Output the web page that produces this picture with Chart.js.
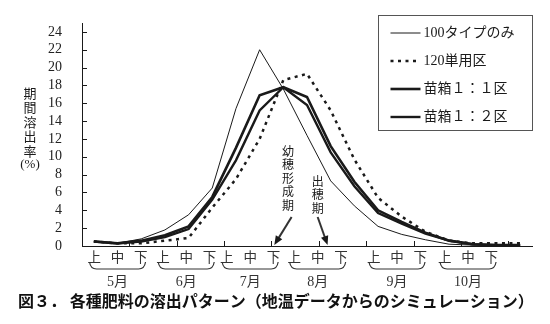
<!DOCTYPE html>
<html lang="ja">
<head>
<meta charset="utf-8">
<script src="https://cdn.jsdelivr.net/npm/chart.js@4.4.1/dist/chart.umd.min.js"></script>
<style>
  html, body { margin: 0; padding: 0; background: #fff; }
  #wrap { width: 550px; height: 324px; }
</style>
</head>
<body>
<div id="wrap"><canvas id="chartYoushutsu"></canvas></div>
<script>
// 旬ごとの期間溶出率 (%)
const periods = [
  '5月上旬', '5月中旬', '5月下旬', '6月上旬', '6月中旬', '6月下旬',
  '7月上旬', '7月中旬', '7月下旬', '8月上旬', '8月中旬', '8月下旬',
  '9月上旬', '9月中旬', '9月下旬', '10月上旬', '10月中旬', '10月下旬', '11月上旬'
];
const months = ['5月', '6月', '7月', '8月', '9月', '10月'];
const junLabels = ['上', '中', '下'];
const yTicks = [0, 2, 4, 6, 8, 10, 12, 14, 16, 18, 20, 22, 24];

const seriesNames = ['100タイプのみ', '120単用区', '苗箱１：１区', '苗箱１：２区'];
const type100   = [0.5, 0.3, 0.8, 1.8, 3.5, 6.5, 15.4, 22.0, 17.6, 12.4, 7.3, 4.5, 2.2, 1.3, 0.7, 0.2, 0.1, 0.1, 0.1];
const single120 = [0.5, 0.3, 0.3, 0.6, 0.9, 4.3, 7.5, 12.0, 18.6, 19.3, 15.2, 9.7, 5.4, 3.3, 1.6, 0.6, 0.3, 0.3, 0.3];
const box11     = [0.5, 0.3, 0.6, 1.2, 2.2, 5.5, 11.0, 16.9, 17.8, 16.7, 11.2, 7.2, 4.0, 2.7, 1.5, 0.6, 0.2, 0.1, 0.1];
const box12     = [0.5, 0.3, 0.5, 1.0, 1.9, 5.2, 9.6, 15.2, 17.8, 15.8, 10.5, 6.7, 3.7, 2.5, 1.4, 0.6, 0.2, 0.1, 0.1];

const INK = '#1a1a1a';
const SERIF = '"Liberation Serif", "Noto Sans CJK JP", serif';
const JP = '"Noto Sans CJK JP", sans-serif';

// 月ごとの「中」の位置（カテゴリ番号）
const groupCenters = [1.0, 3.9, 6.6, 9.45, 12.8, 15.8];

function arrow(ctx, x1, y1, x2, y2) {
  const ang = Math.atan2(y2 - y1, x2 - x1);
  const head = 9;
  ctx.lineWidth = 2;
  ctx.beginPath();
  ctx.moveTo(x1, y1);
  ctx.lineTo(x2 - Math.cos(ang) * head * 0.8, y2 - Math.sin(ang) * head * 0.8);
  ctx.stroke();
  ctx.beginPath();
  ctx.moveTo(x2, y2);
  ctx.lineTo(x2 - head * Math.cos(ang) + 3.8 * Math.sin(ang), y2 - head * Math.sin(ang) - 3.8 * Math.cos(ang));
  ctx.lineTo(x2 - head * Math.cos(ang) - 3.8 * Math.sin(ang), y2 - head * Math.sin(ang) + 3.8 * Math.cos(ang));
  ctx.closePath();
  ctx.fill();
}

function verticalText(ctx, str, cx, top, step) {
  [...str].forEach((ch, i) => ctx.fillText(ch, cx, top + i * step));
}

const decorPlugin = {
  id: 'decor',
  afterDraw(chart) {
    const { ctx, chartArea: area, scales: { x, y } } = chart;
    ctx.save();
    ctx.strokeStyle = INK;
    ctx.fillStyle = INK;
    ctx.lineWidth = 1;

    // 内向きの目盛り
    ctx.beginPath();
    yTicks.forEach(v => {
      const py = Math.round(y.getPixelForValue(v)) + 0.5;
      ctx.moveTo(area.left, py);
      ctx.lineTo(area.left + 5, py);
    });
    for (let i = 1.5; i < periods.length - 1; i += 2) {
      const px = Math.round(x.getPixelForValue(i)) + 0.5;
      ctx.moveTo(px, area.bottom);
      ctx.lineTo(px, area.bottom - 5);
    }
    ctx.stroke();

    // 上・中・下、括弧、月
    ctx.textAlign = 'center';
    ctx.textBaseline = 'middle';
    groupCenters.forEach((c, g) => {
      const cx = x.getPixelForValue(c);
      const step = 23.3;
      ctx.font = '13.5px ' + JP;
      ctx.fillStyle = '#333';
      junLabels.forEach((t, j) => ctx.fillText(t, cx + (j - 1) * step, area.bottom + 11));

      ctx.lineWidth = 1.2;
      ctx.strokeStyle = '#333';
      const l = cx - 28, r = cx + 28, top = area.bottom + 16, bot = area.bottom + 23;
      ctx.beginPath();
      ctx.moveTo(l, top);
      ctx.quadraticCurveTo(l + 1, bot, l + 7, bot);
      ctx.lineTo(r - 7, bot);
      ctx.quadraticCurveTo(r - 1, bot, r, top);
      ctx.stroke();

      ctx.font = '14px ' + SERIF;
      ctx.fillText(months[g], cx, area.bottom + 36);
    });

    // 縦軸タイトル
    ctx.fillStyle = INK;
    ctx.font = '13px ' + JP;
    verticalText(ctx, '期間溶出率', 30, 93, 14.5);
    ctx.font = '13px ' + SERIF;
    ctx.fillText('(%)', 30, 165);

    // 生育ステージの注記
    ctx.font = '12px ' + JP;
    const xa = x.getPixelForValue(8.2);
    verticalText(ctx, '幼穂形成期', xa, area.bottom - 95, 13.5);
    const xb = x.getPixelForValue(9.45);
    verticalText(ctx, '出穂期', xb, area.bottom - 65, 13.5);
    arrow(ctx, x.getPixelForValue(8.35), area.bottom - 29, x.getPixelForValue(7.62), area.bottom - 1);
    arrow(ctx, x.getPixelForValue(9.45), area.bottom - 29, x.getPixelForValue(9.87), area.bottom - 1);

    // 凡例
    const bw = 154, bh = 115;
    const bx = Math.round(area.right - bw) + 0.5, by = 15.5;
    ctx.lineWidth = 1;
    ctx.strokeStyle = '#555';
    ctx.fillStyle = '#fff';
    ctx.fillRect(bx, by, bw, bh);
    ctx.strokeRect(bx, by, bw, bh);
    ctx.textAlign = 'left';
    chart.data.datasets.forEach((ds, i) => {
      const ly = 33 + i * 28;
      ctx.strokeStyle = INK;
      ctx.lineWidth = ds.borderWidth;
      ctx.setLineDash(ds.borderDash || []);
      ctx.beginPath();
      ctx.moveTo(bx + 12, ly);
      ctx.lineTo(bx + 42, ly);
      ctx.stroke();
      ctx.setLineDash([]);
      ctx.fillStyle = INK;
      ctx.font = '14px ' + SERIF;
      ctx.fillText(ds.label, bx + 45, ly);
    });

    // 図題
    ctx.font = 'bold 16px ' + JP;
    ctx.fillStyle = '#111';
    ctx.fillText('図３． 各種肥料の溶出パターン（地温データからのシミュレーション）', 18, 301);
    ctx.restore();
  }
};

const lineStyle = (label, data, width, dash) => ({
  label: label,
  data: data,
  borderColor: INK,
  borderWidth: width,
  borderDash: dash,
  pointRadius: 0,
  tension: 0,
  fill: false
});

new Chart(document.getElementById('chartYoushutsu'), {
  type: 'line',
  data: {
    labels: periods,
    datasets: [
      lineStyle(seriesNames[0], type100, 1, []),
      lineStyle(seriesNames[1], single120, 2.5, [3, 4.5]),
      lineStyle(seriesNames[2], box11, 2.6, []),
      lineStyle(seriesNames[3], box12, 2.4, [])
    ]
  },
  options: {
    responsive: true,
    maintainAspectRatio: false,
    animation: false,
    layout: { padding: { top: 23, right: 18, left: 0, bottom: 0 } },
    plugins: {
      legend: { display: false },
      tooltip: { enabled: false }
    },
    scales: {
      x: {
        type: 'category',
        offset: true,
        grid: { display: false },
        border: { display: true, color: INK, width: 1 },
        ticks: { display: false },
        afterFit: scale => { scale.height = 78; }
      },
      y: {
        min: 0,
        max: 25,
        grid: { display: false },
        border: { display: true, color: INK, width: 1 },
        ticks: {
          autoSkip: false,
          padding: 12,
          color: '#222',
          font: { family: SERIF, size: 14 }
        },
        afterBuildTicks: scale => { scale.ticks = yTicks.map(v => ({ value: v })); },
        afterFit: scale => { scale.width = 82; }
      }
    }
  },
  plugins: [decorPlugin]
});
</script>
</body>
</html>
